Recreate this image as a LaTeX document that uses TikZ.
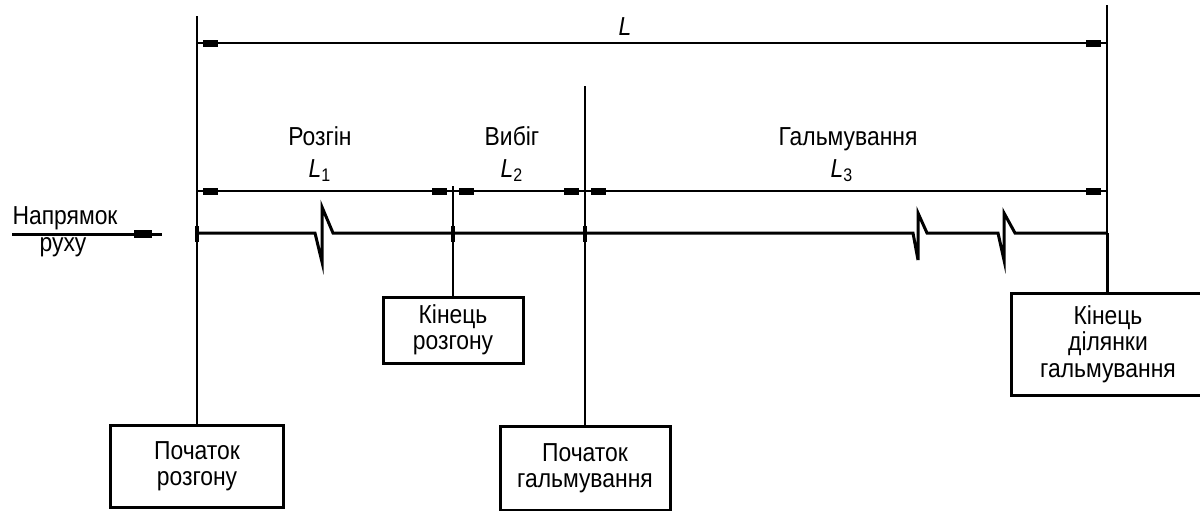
\documentclass[tikz,border=0pt]{standalone}
\usepackage{fontspec}
\setmainfont{Liberation Sans}[FakeStretch=0.88]
\usetikzlibrary{arrows.meta,positioning}

\begin{document}
\begin{tikzpicture}[x=0.5pt,y=-0.5pt,
      font=\fontsize{13}{13.2}\selectfont,
      box/.style={draw,line width=1.5pt,align=center,inner sep=0pt},
      dimline/.style={line width=1pt,{Rectangle[length=7.5pt,width=3.5pt,sep=3pt]}-{Rectangle[length=7.5pt,width=3.5pt,sep=3pt]}},
      extline/.style={line width=1pt},
      tickmark/.style={line width=2pt}]
    \clip (0,0) rectangle (1200,510);

    % boxes at the ends of the extension lines
    \node[box,minimum width=86.5pt,minimum height=41pt] (startacc) at (197,466) {Початок\\розгону};
    \node[box,minimum width=70pt,minimum height=33pt] (endacc) at (453,330) {Кінець\\розгону};
    \node[box,minimum width=85pt,minimum height=42pt] (startbrk) at (585,468) {Початок\\гальмування};
    \node[box,minimum width=97pt,minimum height=51pt] (endbrk) at (1108,344) {Кінець\\ділянки\\гальмування};

    % extension lines
    \coordinate (x0) at (197,16);
    \coordinate (x1) at (453,186);
    \coordinate (x2) at (585,86);
    \coordinate (x3) at (1107,5);
    \coordinate (m3) at (1107,233);
    \draw[extline] (x0) -- (startacc.north);
    \draw[extline] (x1) -- (endacc.north);
    \draw[extline] (x2) -- (startbrk.north);
    \draw[extline] (x3) -- (m3);
    \draw[line width=1.5pt] (m3) -- (endbrk.north -| m3);

    % track with breaks
    \coordinate (m0) at (197,233);
    \draw[line width=1.5pt] (m0) -- (315,233) -- (322,262) -- (322,207) -- (333,233)
      -- (913,233) -- (918,260) -- (918,213) -- (927,233)
      -- (998,233) -- (1004,260) -- (1004,213) -- (1015,233) -- (m3);
    \foreach \x in {197,453,585}
      \draw[tickmark] (\x,226) -- (\x,242);

    % dimensions
    \coordinate (d0) at (197,43);
    \coordinate (d3) at (1107,43);
    \draw[extline] (d0) -- (d3);
    \draw[dimline] (d0) -- (d3);
    \node[anchor=base,font=\fontsize{13}{13.2}\selectfont\itshape] (lab) at (625,35) {L};

    \coordinate (e0) at (197,191);
    \coordinate (e1) at (453,191);
    \coordinate (e2) at (585,191);
    \coordinate (e3) at (1107,191);
    \draw[extline] (e0) -- (e3);
    \foreach \a/\b in {e0/e1,e1/e2,e2/e3}
      \draw[dimline] (\a) -- (\b);

    \node[anchor=base] (n1) at (320,145) {Розгін};
    \node[anchor=base] (l1) at (320,177) {\textit{L}\textsubscript{1}};
    \node[anchor=base] (n2) at (512,145) {Вибіг};
    \node[anchor=base] (l2) at (512,177) {\textit{L}\textsubscript{2}};
    \node[anchor=base] (n3) at (848,145) {Гальмування};
    \node[anchor=base] (l3) at (842,177) {\textit{L}\textsubscript{3}};

    % direction of motion
    \coordinate (r0) at (12,234);
    \coordinate (r1) at (162,234);
    \draw[line width=1.5pt] (r0) -- (r1);
    \draw[line width=1.5pt,-{Rectangle[length=9pt,width=4pt,sep=5pt]}] (r0) -- (r1);
    \node (dir1) at (65,218) {Напрямок};
    \node (dir2) at (63,247) {руху};
  \end{tikzpicture}
\end{document}
